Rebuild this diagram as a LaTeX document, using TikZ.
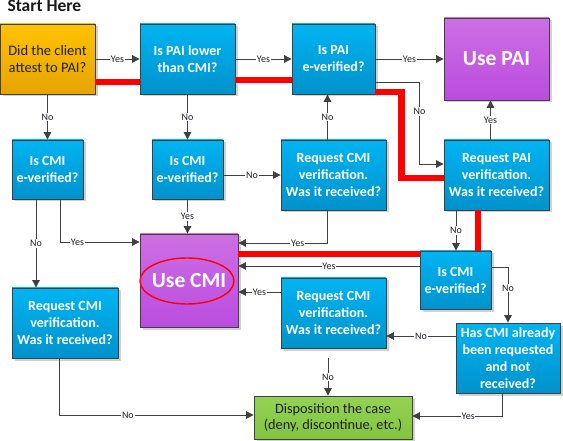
\documentclass[tikz,border=0pt]{standalone}
\usepackage{fontspec}
\setmainfont{Carlito}
\usetikzlibrary{arrows.meta,shadows,calc}
\definecolor{bluetop}{HTML}{00B4F2}
\definecolor{bluebot}{HTML}{0092CC}
\definecolor{orgtop}{HTML}{FFC200}
\definecolor{orgbot}{HTML}{E6A400}
\definecolor{purtop}{HTML}{CD6FE4}
\definecolor{purbot}{HTML}{BA4CDF}
\definecolor{grntop}{HTML}{94D254}
\definecolor{grnbot}{HTML}{82C440}
\definecolor{linegray}{HTML}{404040}
\definecolor{labeltext}{HTML}{1E2030}
\definecolor{hlred}{HTML}{FF0000}
\begin{document}
\begin{tikzpicture}[x=1pt,y=1pt,
  box/.style={draw=linegray, line width=0.8pt, align=center, inner sep=1pt,
    drop shadow={shadow xshift=2.5pt,shadow yshift=-2.5pt,fill=black,opacity=0.18}},
  bluebox/.style={box, top color=bluetop, bottom color=bluebot, text=white,
    font=\bfseries\fontsize{14}{17}\selectfont},
  orgbox/.style={box, top color=orgtop, bottom color=orgbot, text=black!88,
    font=\fontsize{14.5}{17}\selectfont},
  purbox/.style={box, top color=purtop, bottom color=purbot, text=white,
    font=\bfseries\fontsize{21.5}{24}\selectfont},
  grnbox/.style={box, top color=grntop, bottom color=grnbot, text=black!88,
    font=\fontsize{14.3}{16}\selectfont},
  arr/.style={draw=linegray, line width=0.9pt, -{Triangle[length=7.5pt,width=7.5pt]}},
  lbl/.style={fill=white, inner sep=0.8pt, font=\fontsize{10}{11}\selectfont, text=labeltext},
  hl/.style={draw=hlred, line width=6.5pt}]
\useasboundingbox (0,0) rectangle (563,-441);

\node[anchor=base west, font=\bfseries\fontsize{17.5}{19}\selectfont, text=black!90] (title) at (4,-12) {Start Here};

\node[orgbox, minimum width=95pt, minimum height=70pt] (A) at (47.5,-59) {Did the client\\attest to PAI?};
\node[bluebox, minimum width=95pt, minimum height=70pt] (B) at (187.5,-59) {Is PAI lower\\than CMI?};
\node[bluebox, minimum width=83pt, minimum height=70pt] (C) at (333.5,-59) {Is PAI\\e-verified?};
\node[purbox, minimum width=105pt, minimum height=82pt] (D) at (496.5,-59) {Use PAI};
\node[bluebox, minimum width=71pt, minimum height=59pt] (E) at (47.5,-169.5) {Is CMI\\e-verified?};
\node[bluebox, minimum width=71pt, minimum height=59pt] (F) at (187.5,-169.5) {Is CMI\\e-verified?};
\node[bluebox, minimum width=105pt, minimum height=70pt] (G) at (333.5,-175) {Request CMI\\verification.\\Was it received?};
\node[bluebox, minimum width=105pt, minimum height=70pt] (H) at (496.5,-175) {Request PAI\\verification.\\Was it received?};
\node[purbox, minimum width=98pt, minimum height=93pt] (I) at (189,-280.5) {Use CMI};
\node[bluebox, minimum width=106pt, minimum height=70pt] (J) at (65,-323) {Request CMI\\verification.\\Was it received?};
\node[bluebox, minimum width=71pt, minimum height=58pt] (K) at (455.5,-280) {Is CMI\\e-verified?};
\node[bluebox, minimum width=105pt, minimum height=70pt] (L) at (333.5,-313) {Request CMI\\verification.\\Was it received?};
\node[bluebox, minimum width=104pt, minimum height=70pt] (M) at (508,-358) {Has CMI already\\been requested\\and not\\received?};
\node[grnbox, minimum width=158pt, minimum height=43pt] (N) at (333,-417.5) {Disposition the case\\(deny, discontinue, etc.)};

\draw[hlred, line width=1.4pt] (187,-281) ellipse (47 and 23);

% highlighted path
\draw[hl] ([yshift=-23]A.east) -- ([yshift=-23]B.west);
\draw[hl] ([yshift=-21]B.east) -- ([yshift=-21]C.west);
\draw[hl] ([yshift=-33]C.east) -| ($(H.west)+(-42,-3)$) -- ([yshift=-3]H.west);
\draw[hl] ([xshift=-18.5]H.south) -- ([xshift=-18.5]H.south |- K.north);
\draw[hl] ([yshift=26]K.west) -- ([yshift=26]K.west -| I.east);

% connectors
\draw[arr] (A.east) -- node[lbl]{Yes} (B.west);
\draw[arr] (B.east) -- node[lbl]{Yes} (C.west);
\draw[arr] (C.east) -- node[lbl]{Yes} (D.west);
\draw[arr] (A.south) -- node[lbl]{No} (E.north);
\draw[arr] (B.south) -- node[lbl]{No} (F.north);
\draw[arr] (G.west -| F.east) -- node[lbl]{No} (G.west);
\draw[arr] ([xshift=-6]G.north) -- node[lbl]{No} ([xshift=-6]C.south);
\draw[arr] ([yshift=-23]C.east) -| node[lbl, pos=0.68]{No} ($(H.west)+(-24,11)$) -- ([yshift=11]H.west);
\draw[arr] ([xshift=-6]H.north) -- node[lbl]{Yes} ([xshift=-6]D.south);
\draw[arr] (F.south) -- node[lbl]{Yes} (F.south |- I.north);
\draw[arr] ([xshift=12.5]E.south) |- node[lbl, pos=0.61]{Yes} ([yshift=38.5]I.west);
\draw[arr] ([xshift=-11.5]E.south) -- node[lbl]{No} ([xshift=-11.5]E.south |- J.north);
\draw[arr] ([xshift=-6]G.south) |- node[lbl, pos=0.667]{Yes} ([yshift=37.5]I.east);
\draw[arr] ([yshift=14]K.west) -- node[lbl]{Yes} ([yshift=14]K.west -| I.east);
\draw[arr] ([yshift=21]L.west) -- node[lbl]{Yes} ([yshift=21]L.west -| I.east);
\draw[arr] ([xshift=-40.5]H.south) -- node[lbl]{No} ([xshift=-40.5]H.south |- K.north);
\draw[arr] ([yshift=13]K.east) -| node[lbl, pos=0.69]{No} (M.north);
\draw[arr] ([yshift=22]M.west) -- node[lbl]{No} ([yshift=22]M.west -| L.east);
\draw[arr] ([xshift=-5.5,yshift=-10]L.south) -- node[lbl]{No} ([xshift=-5.5]L.south |- N.north);
\draw[arr] ([xshift=-6]J.south) |- node[lbl, pos=0.677]{No} ([yshift=2.5]N.west);
\draw[arr] ([xshift=-6]M.south) |- node[lbl, pos=0.689]{Yes} ([yshift=1.5]N.east);
\end{tikzpicture}
\end{document}
